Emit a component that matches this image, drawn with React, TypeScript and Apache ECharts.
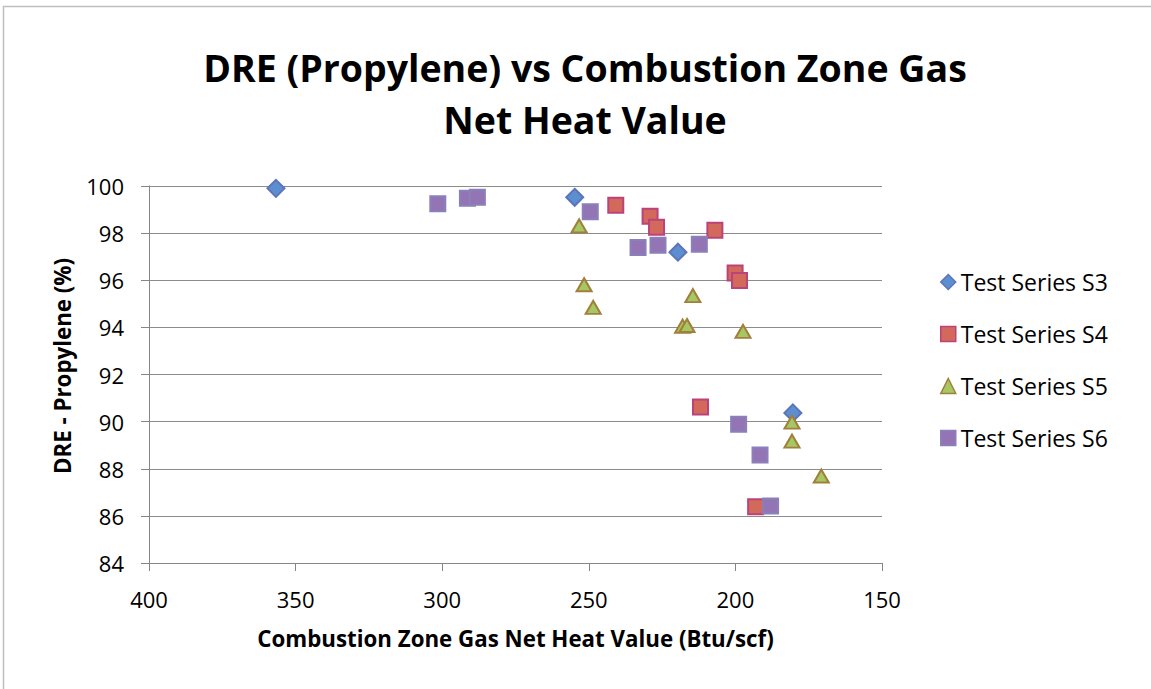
import React, { useEffect, useRef } from "react";
import * as echarts from "echarts";

const seriesNames = ["Test Series S3", "Test Series S4", "Test Series S5", "Test Series S6"];

const s3X = [356.7, 254.8, 219.6, 180.4];
const s3Y = [99.9, 99.52, 97.19, 90.37];

const s4X = [240.8, 229.1, 226.9, 207.0, 200.1, 198.6, 211.9, 193.1];
const s4Y = [99.18, 98.72, 98.25, 98.12, 96.31, 95.99, 90.62, 86.39];

const s5X = [253.3, 251.6, 248.5, 214.5, 218.0, 216.5, 197.4, 180.7, 180.7, 170.7];
const s5Y = [98.31, 95.81, 94.85, 95.35, 94.05, 94.08, 93.83, 89.98, 89.17, 87.69];

const s6X = [301.5, 291.4, 288.0, 249.5, 233.2, 226.4, 212.3, 198.9, 191.6, 188.0];
const s6Y = [99.25, 99.48, 99.52, 98.91, 97.39, 97.49, 97.53, 89.89, 88.58, 86.42];

const xTicks = [150, 200, 250, 300, 350, 400];
const yTicks = [84, 86, 88, 90, 92, 94, 96, 98, 100];

const titleLines = ["DRE (Propylene) vs Combustion Zone Gas", "Net Heat Value"];
const xTitle = "Combustion Zone Gas Net Heat Value (Btu/scf)";
const yTitle = "DRE - Propylene (%)";

const FONT = "'Open Sans', Lato, sans-serif";

const zip = (xs: number[], ys: number[]) => xs.map((x, i) => [x, ys[i]]);

export default function App() {
  const ref = useRef<HTMLDivElement>(null);
  useEffect(() => {
    if (!ref.current) return;
    const chart = echarts.init(ref.current, undefined, { renderer: "svg" });
    const styles = [
      { symbol: "diamond", size: [17, 17], fill: "#5B8FD1", stroke: "#5E74B6" },
      { symbol: "rect", size: [15, 15], fill: "#D3695A", stroke: "#BA437C" },
      { symbol: "triangle", size: [15, 13], fill: "#A6C762", stroke: "#A0803C" },
      { symbol: "rect", size: [15, 15], fill: "#9375B5", stroke: "#8A80BA" },
    ];
    const data = [zip(s3X, s3Y), zip(s4X, s4Y), zip(s5X, s5Y), zip(s6X, s6Y)];
    chart.setOption({
      animation: false,
      backgroundColor: "#ffffff",
      title: {
        text: titleLines.join("\n"),
        left: 580,
        top: 36,
        textAlign: "center",
        textStyle: {
          fontFamily: FONT,
          fontSize: 37.5,
          fontWeight: "bold",
          color: "#000000",
          lineHeight: 52,
        },
      },
      graphic: [
        {
          type: "rect",
          silent: true,
          shape: { x: 3.5, y: 6.5, width: 1300, height: 800 },
          style: { fill: "none", stroke: "#BFBFBF", lineWidth: 1.5 },
        },
        {
          type: "text",
          x: 62,
          y: 366,
          rotation: Math.PI / 2,
          style: {
            text: yTitle,
            fontFamily: FONT,
            fontSize: 22.3,
            fontWeight: "bold",
            fill: "#000000",
            align: "center",
            verticalAlign: "middle",
          },
        },
      ],
      legend: {
        orient: "vertical",
        left: 935,
        top: 265,
        itemWidth: 15,
        itemHeight: 15,
        itemGap: 28,
        data: seriesNames.map((n, i) => ({
          name: n,
          icon: styles[i].symbol,
          itemStyle: { color: styles[i].fill, borderColor: styles[i].stroke, borderWidth: 1.5 },
        })),
        textStyle: { fontFamily: FONT, fontSize: 23, color: "#000000", lineHeight: 24 },
      },
      grid: { left: 149, right: 269, top: 186, bottom: 126 },
      xAxis: {
        type: "value",
        inverse: true,
        min: xTicks[0],
        max: xTicks[xTicks.length - 1],
        interval: 50,
        name: xTitle,
        nameLocation: "middle",
        nameGap: 64,
        nameTextStyle: { fontFamily: FONT, fontSize: 22.3, fontWeight: "bold", color: "#000000" },
        axisLine: { show: true, lineStyle: { color: "#868686", width: 1 } },
        axisTick: { show: true, length: 8, inside: false, lineStyle: { color: "#868686" } },
        axisLabel: { fontFamily: FONT, fontSize: 22, color: "#000000", margin: 25 },
        splitLine: { show: false },
      },
      yAxis: {
        type: "value",
        min: yTicks[0],
        max: yTicks[yTicks.length - 1],
        interval: 2,
        axisLine: { show: true, lineStyle: { color: "#868686", width: 1 } },
        axisTick: { show: true, length: 8, inside: false, lineStyle: { color: "#868686" } },
        axisLabel: { fontFamily: FONT, fontSize: 22, color: "#000000", margin: 25 },
        splitLine: { show: true, lineStyle: { color: "#8C8C8C", width: 1 } },
      },
      series: data.map((d, i) => ({
        name: seriesNames[i],
        type: "scatter",
        data: d,
        symbol: styles[i].symbol,
        symbolSize: styles[i].size,
        itemStyle: {
          color: styles[i].fill,
          borderColor: styles[i].stroke,
          borderWidth: 2,
          opacity: 1,
        },
      })),
    });
    return () => chart.dispose();
  }, []);
  return (
    <div
      ref={ref}
      style={{ position: "absolute", left: 0, top: 0, width: 1151, height: 689 }}
    />
  );
}
